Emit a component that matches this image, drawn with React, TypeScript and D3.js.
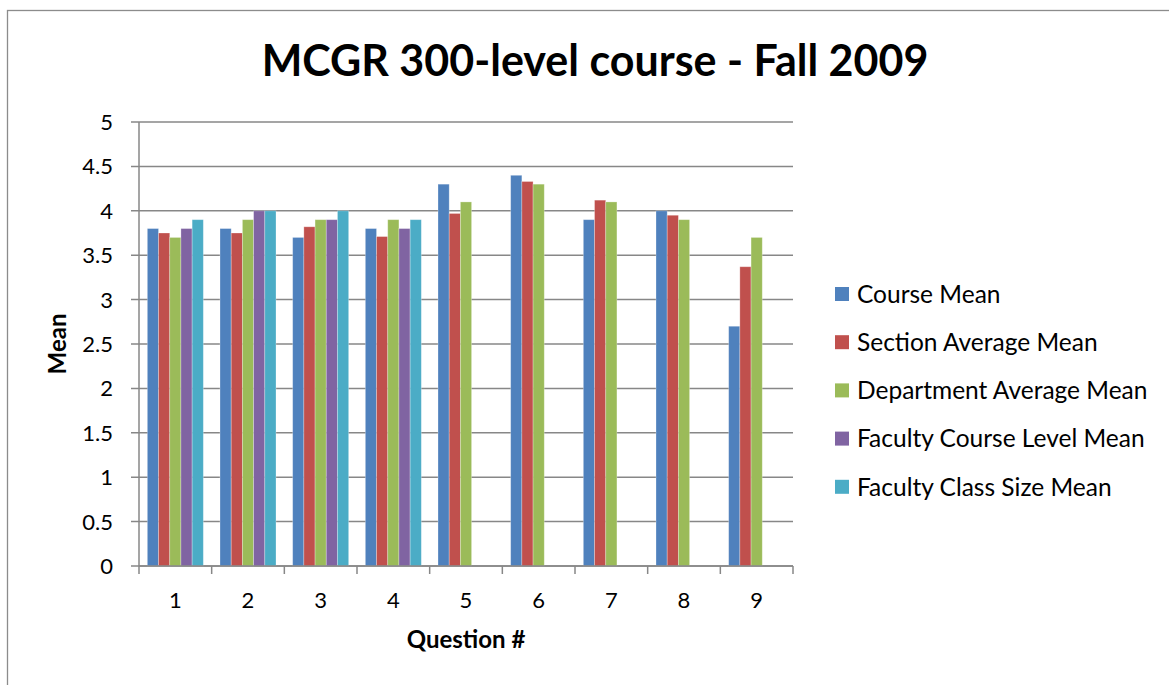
import React, { useEffect, useRef } from "react";
import * as d3 from "d3";

const questions = ["1", "2", "3", "4", "5", "6", "7", "8", "9"];
const seriesNames = [
  "Course Mean",
  "Section Average Mean",
  "Department Average Mean",
  "Faculty Course Level Mean",
  "Faculty Class Size Mean",
];
const seriesColors = ["#4F81BD", "#C0504D", "#9BBB59", "#8064A2", "#4BACC6"];

const courseMean = [3.8, 3.8, 3.7, 3.8, 4.3, 4.4, 3.9, 4.0, 2.7];
const sectionMean = [3.75, 3.75, 3.82, 3.71, 3.97, 4.33, 4.12, 3.95, 3.37];
const departmentMean = [3.7, 3.9, 3.9, 3.9, 4.1, 4.3, 4.1, 3.9, 3.7];
const facultyLevelMean = [3.8, 4.0, 3.9, 3.8, null, null, null, null, null];
const facultySizeMean = [3.9, 4.0, 4.0, 3.9, null, null, null, null, null];

const yTicks = [0, 0.5, 1, 1.5, 2, 2.5, 3, 3.5, 4, 4.5, 5];

const FONT = "Lato, 'Open Sans', sans-serif";

const App = () => {
  const svgRef = useRef<SVGSVGElement>(null);

  useEffect(() => {
    const svg = d3.select(svgRef.current);
    svg.selectAll("*").remove();

    const W = 1169;
    const H = 685;
    const margin = { left: 139, right: W - 793, top: 122, bottom: H - 566 };
    const width = W - margin.left - margin.right;
    const height = H - margin.top - margin.bottom;

    svg.append("rect").attr("width", W).attr("height", H).attr("fill", "#fff");
    svg.append("rect")
      .attr("x", 7.5).attr("y", 10.5)
      .attr("width", W + 20).attr("height", H + 20)
      .attr("fill", "none").attr("stroke", "#8c8c8c").attr("stroke-width", 1.3);

    const series = [courseMean, sectionMean, departmentMean, facultyLevelMean, facultySizeMean];

    const x0 = d3.scaleBand().domain(questions).range([0, width]).paddingInner(0).paddingOuter(0);
    const groupW = 56;
    const x1 = d3.scaleBand().domain(seriesNames).range([0, groupW]);
    const y = d3.scaleLinear().domain([0, 5]).range([height, 0]);

    const g = svg.append("g").attr("transform", `translate(${margin.left},${margin.top})`);

    // gridlines
    g.selectAll(".grid")
      .data(yTicks)
      .join("line")
      .attr("x1", -8)
      .attr("x2", width)
      .attr("y1", (d) => y(d))
      .attr("y2", (d) => y(d))
      .attr("stroke", "#878787")
      .attr("stroke-width", 1.5);

    // bars
    series.forEach((vals, si) => {
      g.selectAll(`.bar-${si}`)
        .data(vals.map((v, i) => ({ v, q: questions[i] })).filter((d) => d.v != null))
        .join("rect")
        .attr("x", (d) => x0(d.q)! + x0.bandwidth() / 2 - groupW / 2 + x1(seriesNames[si])!)
        .attr("y", (d) => y(d.v as number))
        .attr("width", x1.bandwidth())
        .attr("height", (d) => height - y(d.v as number))
        .attr("fill", seriesColors[si])
        .attr("stroke", "#ffffff")
        .attr("stroke-opacity", 0.35)
        .attr("stroke-width", 0.8);
    });

    // axes
    g.append("line")
      .attr("x1", 0).attr("x2", 0).attr("y1", 0).attr("y2", height)
      .attr("stroke", "#878787").attr("stroke-width", 1.5);
    g.append("line")
      .attr("x1", 0).attr("x2", width).attr("y1", height).attr("y2", height)
      .attr("stroke", "#878787").attr("stroke-width", 1.5);

    // x ticks at category boundaries
    const bounds = questions.map((q) => x0(q)!).concat([width]);
    g.selectAll(".xtick")
      .data(bounds)
      .join("line")
      .attr("x1", (d) => d).attr("x2", (d) => d)
      .attr("y1", height).attr("y2", height + 8)
      .attr("stroke", "#878787").attr("stroke-width", 1.5);

    g.selectAll(".xlabel")
      .data(questions)
      .join("text")
      .attr("x", (d) => x0(d)! + x0.bandwidth() / 2)
      .attr("y", height + 42)
      .attr("text-anchor", "middle")
      .attr("font-family", FONT)
      .attr("font-size", 22)
      .attr("fill", "#000")
      .text((d) => d);

    g.selectAll(".ylabel")
      .data(yTicks)
      .join("text")
      .attr("x", -26)
      .attr("y", (d) => y(d))
      .attr("dy", "0.36em")
      .attr("text-anchor", "end")
      .attr("font-family", FONT)
      .attr("font-size", 22)
      .attr("fill", "#000")
      .text((d) => String(d));

    // titles
    svg.append("text")
      .attr("x", 595).attr("y", 76)
      .attr("text-anchor", "middle")
      .attr("font-family", FONT)
      .attr("font-weight", "bold")
      .attr("font-size", 43)
      .attr("fill", "#000")
      .text("MCGR 300-level course - Fall 2009");

    svg.append("text")
      .attr("x", margin.left + width / 2).attr("y", 648)
      .attr("text-anchor", "middle")
      .attr("font-family", FONT)
      .attr("font-weight", "bold")
      .attr("font-size", 24)
      .attr("fill", "#000")
      .text("Question #");

    svg.append("text")
      .attr("transform", `translate(66,344) rotate(-90)`)
      .attr("text-anchor", "middle")
      .attr("font-family", FONT)
      .attr("font-weight", "bold")
      .attr("font-size", 24)
      .attr("fill", "#000")
      .text("Mean");

    // legend
    const legend = svg.append("g").attr("transform", "translate(835,294)");
    seriesNames.forEach((name, i) => {
      const row = legend.append("g").attr("transform", `translate(0,${i * 48.2})`);
      row.append("rect")
        .attr("x", 0).attr("y", -7).attr("width", 14).attr("height", 14)
        .attr("fill", seriesColors[i]);
      row.append("text")
        .attr("x", 22).attr("y", 0).attr("dy", "0.36em")
        .attr("font-family", FONT)
        .attr("font-size", 24.5)
        .attr("fill", "#000")
        .text(name);
    });
  }, []);

  return (
    <div style={{ position: "fixed", left: 0, top: 0 }}>
      <svg ref={svgRef} width={1169} height={685} style={{ display: "block" }} />
    </div>
  );
};

export default App;
